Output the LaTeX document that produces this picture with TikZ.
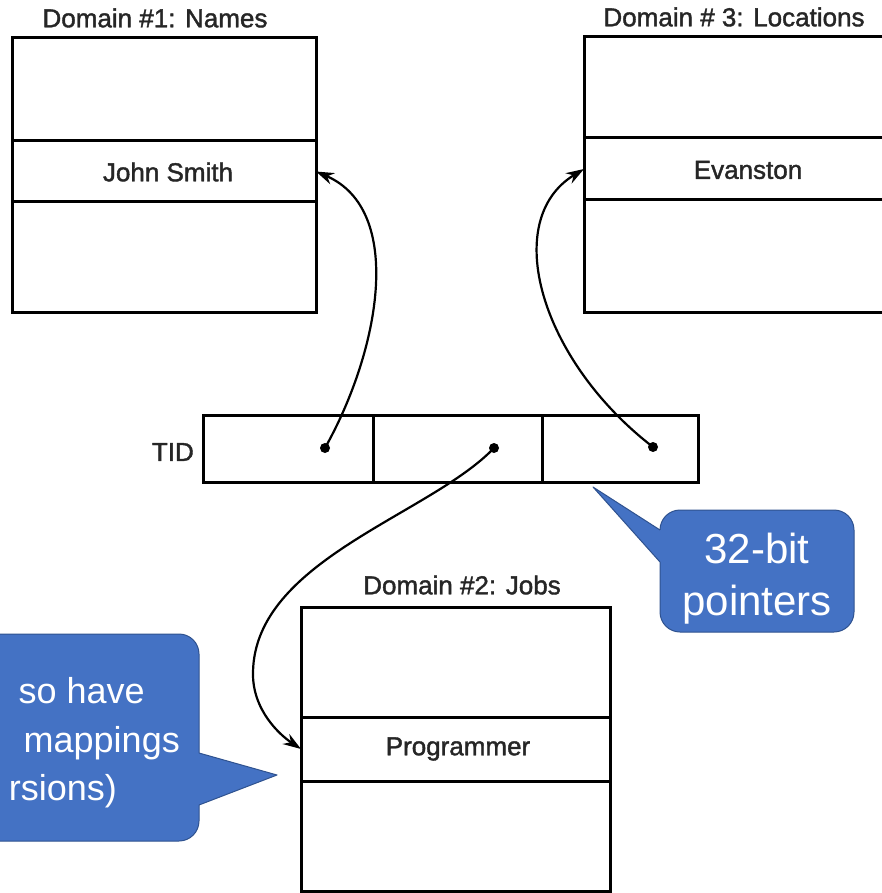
\documentclass[tikz,border=0pt]{standalone}
\usepackage{fontspec}
\setmainfont{Liberation Sans}
\newfontfamily\scanfont[FakeBold=1.5]{Liberation Sans}
\usetikzlibrary{arrows.meta}
\definecolor{cfill}{HTML}{4472C4}
\definecolor{cline}{HTML}{2F528F}
\begin{document}
\begin{tikzpicture}[x=1pt,y=-1pt,
  cell/.style={draw, line width=3pt, anchor=north west, inner sep=0pt, outer sep=0pt},
  lbl/.style={font=\scanfont\fontsize{26}{30}\selectfont, inner sep=0pt, text=black!85},
  dotn/.style={circle, fill, inner sep=0pt, minimum size=10pt},
  ptr/.style={line width=2.2pt, -{Stealth[length=18pt,width=12pt]}},
  callout/.style={fill=cfill, draw=cline, line width=1pt},
  ctext/.style={text=white, inner sep=0pt}]
\useasboundingbox (0,0) rectangle (882,893);
\begin{scope}
\clip (0,0) rectangle (882,893);
% Domain 1
\node[cell, minimum width=304pt, minimum height=103pt] (d1a) at (12,38) {};
\node[cell, minimum width=304pt, minimum height=61pt] (js) at (12,141) {};
\node[cell, minimum width=304pt, minimum height=110pt] (d1c) at (12,202) {};
\node[lbl] (jst) at (168,172) {John Smith};
\node[lbl] (d1t) at (155,18) {Domain \#1: Names};
% Domain 3
\node[cell, minimum width=320pt, minimum height=101pt] (d3a) at (584,37) {};
\node[cell, minimum width=320pt, minimum height=62pt] (ev) at (584,138) {};
\node[cell, minimum width=320pt, minimum height=112pt] (d3c) at (584,200) {};
\node[lbl] (evt) at (748,170) {Evanston};
\node[lbl] (d3t) at (734,17) {Domain \# 3: Locations};
% TID
\node[cell, minimum width=170pt, minimum height=67pt] (t1) at (203,415) {};
\node[cell, minimum width=169pt, minimum height=67pt] (t2) at (373,415) {};
\node[cell, minimum width=156pt, minimum height=67pt] (t3) at (542,415) {};
\node[lbl, anchor=east] (tid) at (194,452) {TID};
\node[dotn] (ta) at (325,448) {};
\node[dotn] (tb) at (494,448) {};
\node[dotn] (tc) at (653,447) {};
% Domain 2
\node[cell, minimum width=309pt, minimum height=110pt] (d2a) at (301,607) {};
\node[cell, minimum width=309pt, minimum height=64pt] (pr) at (301,717) {};
\node[cell, minimum width=309pt, minimum height=110pt] (d2c) at (301,781) {};
\node[lbl] (prt) at (458,749) {Programmer};
\node[lbl] (d2t) at (462,585) {Domain \#2: Jobs};
% pointers
\draw[ptr] (ta.center) .. controls (380,350) and (405,210) .. (js.east);
\draw[ptr] (tc.center) .. controls (540,360) and (500,220) .. (ev.west);
\draw[ptr] (tb.center) .. controls (430,515) and (255,560) .. (253,672)
   .. controls (252,710) and (280,735) .. (pr.west);
% callout 32-bit
\draw[callout] (660,510) [rounded corners=20pt] rectangle (854,632);
\fill[cfill] (593,487) -- (660,530) -- (665,530) -- (665,562) -- (660,562) -- cycle;
\draw[cline, line width=1pt, line join=round] (660,530) -- (593,487) -- (660,562);
\node[ctext, anchor=base, font=\fontsize{42}{50}\selectfont] (cp1) at (757,563) {32-bit};
\node[ctext, anchor=base, font=\fontsize{42}{50}\selectfont] (cp2) at (757,615) {pointers};
% callout left
\draw[callout] (-40,634) [rounded corners=20pt] rectangle (199,841);
\fill[cfill] (277,775) -- (199,753) -- (194,753) -- (194,805) -- (199,805) -- cycle;
\draw[cline, line width=1pt, line join=round] (199,753) -- (277,775) -- (199,805);
\node[ctext, anchor=base east, font=\fontsize{36}{42}\selectfont] (cl1) at (145,703) {so have};
\node[ctext, anchor=base east, font=\fontsize{36}{42}\selectfont] (cl2) at (180,752) {mappings};
\node[ctext, anchor=base east, font=\fontsize{36}{42}\selectfont] (cl3) at (117,800) {rsions)};
\end{scope}
\end{tikzpicture}
\end{document}
